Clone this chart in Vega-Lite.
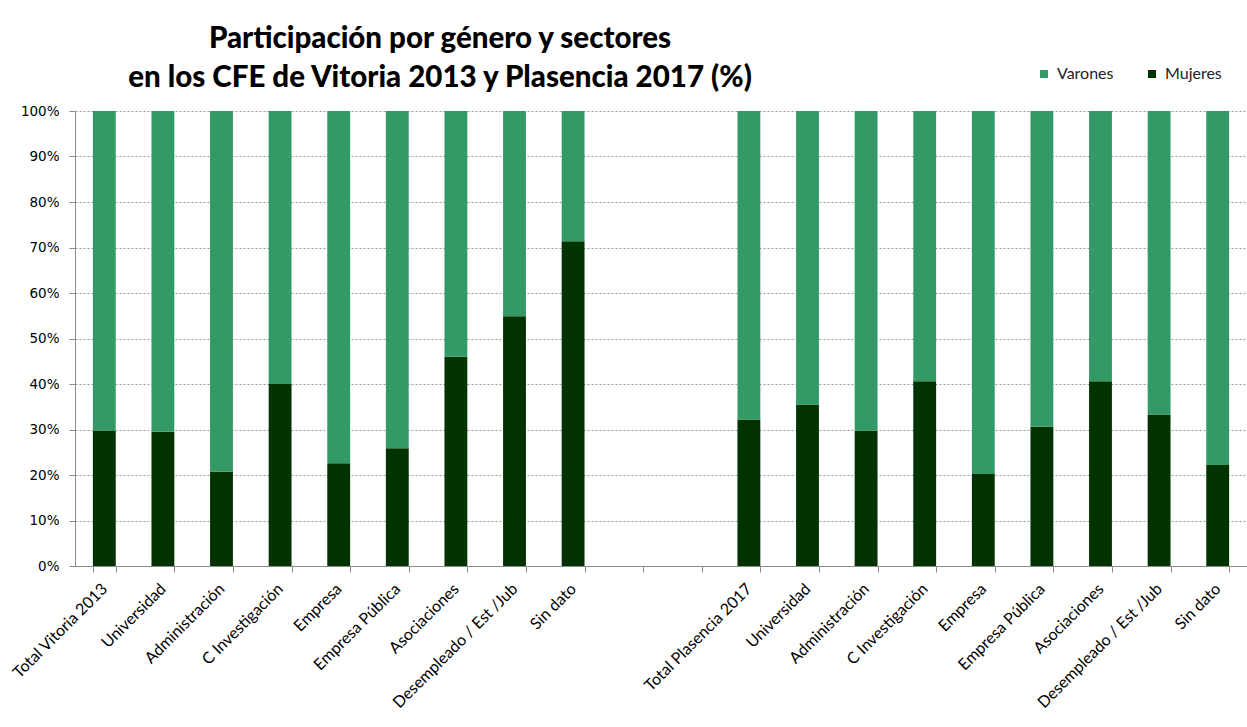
{
  "$schema": "https://vega.github.io/schema/vega-lite/v6.json",
  "width": 1172,
  "height": 455,
  "autosize": {"type": "none"},
  "padding": {"left": 75, "top": 111, "right": 0, "bottom": 161},
  "background": "white",
  "title": {
    "text": ["Participación por género y sectores", "en los CFE de Vitoria 2013 y Plasencia 2017 (%)"],
    "anchor": "middle",
    "frame": "group",
    "dx": -221,
    "dy": 45,
    "font": "Lato",
    "fontWeight": 900,
    "fontSize": 29.5,
    "lineHeight": 39,
    "color": "#000000",
    "offset": 18
  },
  "data": {
    "values": [
      {"cat": "Total Vitoria 2013", "gender": "Mujeres", "value": 29.8},
      {"cat": "Total Vitoria 2013", "gender": "Varones", "value": 70.2},
      {"cat": "Universidad", "gender": "Mujeres", "value": 29.5},
      {"cat": "Universidad", "gender": "Varones", "value": 70.5},
      {"cat": "Administración", "gender": "Mujeres", "value": 20.7},
      {"cat": "Administración", "gender": "Varones", "value": 79.3},
      {"cat": "C Investigación", "gender": "Mujeres", "value": 40.0},
      {"cat": "C Investigación", "gender": "Varones", "value": 60.0},
      {"cat": "Empresa", "gender": "Mujeres", "value": 22.6},
      {"cat": "Empresa", "gender": "Varones", "value": 77.4},
      {"cat": "Empresa Pública", "gender": "Mujeres", "value": 25.9},
      {"cat": "Empresa Pública", "gender": "Varones", "value": 74.1},
      {"cat": "Asociaciones", "gender": "Mujeres", "value": 46.0},
      {"cat": "Asociaciones", "gender": "Varones", "value": 54.0},
      {"cat": "Desempleado / Est /Jub", "gender": "Mujeres", "value": 54.9},
      {"cat": "Desempleado / Est /Jub", "gender": "Varones", "value": 45.1},
      {"cat": "Sin dato", "gender": "Mujeres", "value": 71.4},
      {"cat": "Sin dato", "gender": "Varones", "value": 28.6},
      {"cat": "Total Plasencia 2017", "gender": "Mujeres", "value": 32.2},
      {"cat": "Total Plasencia 2017", "gender": "Varones", "value": 67.8},
      {"cat": "Universidad ", "gender": "Mujeres", "value": 35.5},
      {"cat": "Universidad ", "gender": "Varones", "value": 64.5},
      {"cat": "Administración ", "gender": "Mujeres", "value": 29.7},
      {"cat": "Administración ", "gender": "Varones", "value": 70.3},
      {"cat": "C Investigación ", "gender": "Mujeres", "value": 40.6},
      {"cat": "C Investigación ", "gender": "Varones", "value": 59.4},
      {"cat": "Empresa ", "gender": "Mujeres", "value": 20.2},
      {"cat": "Empresa ", "gender": "Varones", "value": 79.8},
      {"cat": "Empresa Pública ", "gender": "Mujeres", "value": 30.6},
      {"cat": "Empresa Pública ", "gender": "Varones", "value": 69.4},
      {"cat": "Asociaciones ", "gender": "Mujeres", "value": 40.6},
      {"cat": "Asociaciones ", "gender": "Varones", "value": 59.4},
      {"cat": "Desempleado / Est /Jub ", "gender": "Mujeres", "value": 33.3},
      {"cat": "Desempleado / Est /Jub ", "gender": "Varones", "value": 66.7},
      {"cat": "Sin dato ", "gender": "Mujeres", "value": 22.2},
      {"cat": "Sin dato ", "gender": "Varones", "value": 77.8}
    ]
  },
  "mark": {"type": "bar"},
  "encoding": {
    "x": {
      "field": "cat",
      "type": "nominal",
      "sort": null,
      "scale": {
        "type": "band",
        "domain": ["Total Vitoria 2013", "Universidad", "Administración", "C Investigación", "Empresa", "Empresa Pública", "Asociaciones", "Desempleado / Est /Jub", "Sin dato", " ", "  ", "Total Plasencia 2017", "Universidad ", "Administración ", "C Investigación ", "Empresa ", "Empresa Pública ", "Asociaciones ", "Desempleado / Est /Jub ", "Sin dato "],
        "paddingInner": 0.61,
        "paddingOuter": 0.305
      },
      "axis": {
        "title": null,
        "labelExpr": "trim(datum.label)",
        "labelAngle": -45,
        "labelAlign": "right",
        "labelBaseline": "middle",
        "labelFont": "Lato",
        "labelFontSize": 16,
        "labelColor": "#000000",
        "labelPadding": 14,
        "labelOverlap": false,
        "labelBound": false,
        "tickBand": "extent",
        "tickSize": 6,
        "tickColor": "#8a8a8a",
        "domainColor": "#8a8a8a",
        "grid": false
      }
    },
    "y": {
      "field": "value",
      "type": "quantitative",
      "stack": "normalize",
      "scale": {"domain": [0, 1], "nice": false},
      "axis": {
        "title": null,
        "values": [0, 0.1, 0.2, 0.3, 0.4, 0.5, 0.6, 0.7, 0.8, 0.9, 1],
        "format": ".0%",
        "labelFont": "DejaVu Sans",
        "labelFontSize": 13.5,
        "labelColor": "#000000",
        "labelPadding": 10,
        "tickSize": 6,
        "tickColor": "#8a8a8a",
        "domainColor": "#8a8a8a",
        "grid": true,
        "gridColor": "#9a9a9a",
        "gridDash": [2, 2],
        "gridWidth": 1
      }
    },
    "color": {
      "field": "gender",
      "type": "nominal",
      "scale": {"domain": ["Varones", "Mujeres"], "range": ["#339966", "#003300"]},
      "legend": {
        "title": null,
        "orient": "none",
        "direction": "horizontal",
        "legendX": 961,
        "legendY": -45,
        "symbolType": "square",
        "symbolSize": 64,
        "symbolStrokeWidth": 0,
        "symbolOpacity": 1,
        "labelFont": "Lato",
        "labelFontSize": 16,
        "labelColor": "#222222",
        "labelOffset": 5,
        "columnPadding": 30,
        "padding": 0
      }
    },
    "order": {"field": "gender", "sort": "ascending"}
  },
  "config": {
    "view": {"stroke": null}
  }
}
